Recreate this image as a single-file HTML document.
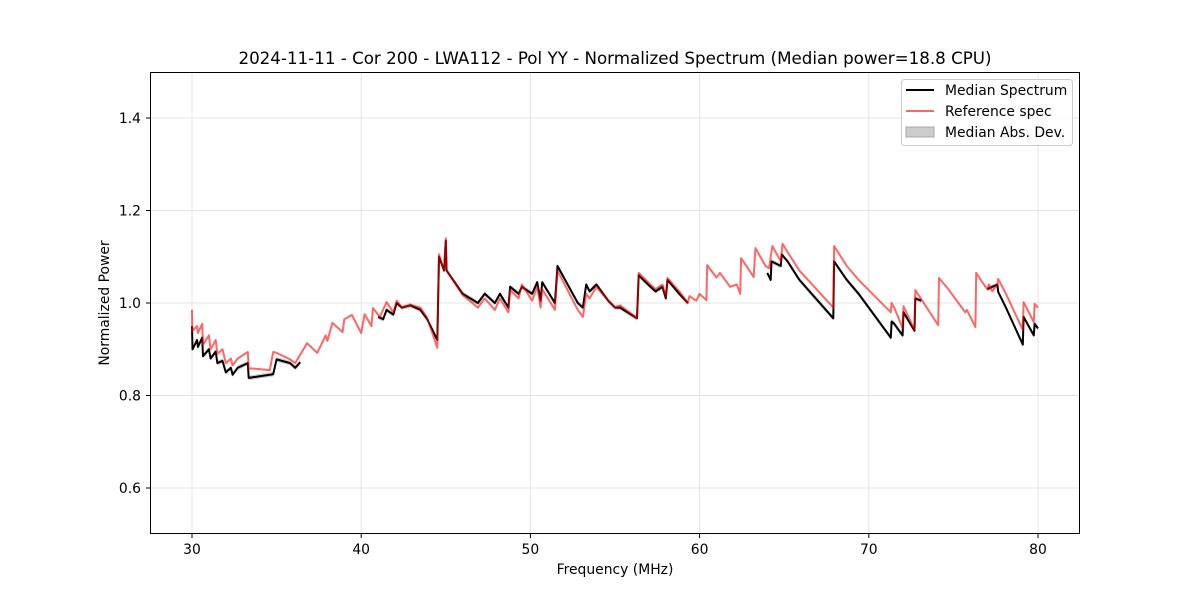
<!DOCTYPE html>
<html><head><meta charset="utf-8"><style>
body{margin:0;background:#fff;}
svg{display:block;font-family:"DejaVu Sans","Liberation Sans",sans-serif;}
</style></head><body>
<svg id="chart" width="1200" height="600" viewBox="0 0 1200 600">
<rect x="0" y="0" width="1200" height="600" fill="#fff"/>
<g id="grid"></g>
<g id="series"></g>
<rect x="150.5" y="72.5" width="929" height="461" fill="none" stroke="#000" stroke-width="1"/>
<g id="ticks"></g>
<text x="615" y="64" text-anchor="middle" font-size="16.7">2024-11-11 - Cor 200 - LWA112 - Pol YY - Normalized Spectrum (Median power=18.8 CPU)</text>
<text x="615" y="574" text-anchor="middle" font-size="13.9">Frequency (MHz)</text>
<text x="109" y="303" text-anchor="middle" font-size="13.9" transform="rotate(-90 109 303)">Normalized Power</text>
<g>
<rect x="901.5" y="79.5" width="171" height="66" rx="3" fill="#fff" fill-opacity="0.8" stroke="#ccc"/>
<g><line x1="906" y1="90" x2="934" y2="90" stroke="#000" stroke-width="2"/><text x="945" y="95" font-size="13.9">Median Spectrum</text></g>
<g><line x1="906" y1="111" x2="934" y2="111" stroke="#ff6464" stroke-width="2"/><text x="945" y="116" font-size="13.9">Reference spec</text></g>
<g><rect x="906" y="127" width="28" height="10" fill="#ccc" stroke="#aaa"/><text x="945" y="137" font-size="13.9">Median Abs. Dev.</text></g>
</g>
</svg>
<script>
const xTicks=[30,40,50,60,70,80];
const yTicks=[0.6,0.8,1.0,1.2,1.4];
const yTickLabels=["0.6","0.8","1.0","1.2","1.4"];
const refFreq=[30.0,30.02,30.3,30.35,30.6,30.65,31.0,31.1,31.4,31.5,31.8,32.0,32.3,32.4,32.7,33.3,33.35,34.6,34.8,35.0,35.8,36.1,36.8,37.4,37.9,38.0,38.3,38.9,39.0,39.45,40.0,40.2,40.6,40.7,41.1,41.5,41.9,42.1,42.4,42.9,43.5,43.9,44.5,44.6,44.9,45.0,45.05,46.0,46.9,47.3,47.9,48.2,48.7,48.8,49.3,49.5,50.1,50.4,50.6,50.7,51.45,51.6,52.8,53.1,53.3,53.5,53.9,54.6,55.0,55.3,56.3,56.4,57.1,57.4,57.8,58.0,58.1,58.8,59.3,59.4,59.8,60.0,60.4,60.45,61.0,61.2,61.8,62.2,62.4,62.45,63.2,63.3,63.9,64.1,64.3,64.8,64.9,65.2,65.9,67.9,67.95,68.7,69.4,71.3,71.35,71.5,72.0,72.05,72.7,72.75,74.1,74.15,74.7,75.7,75.8,76.3,76.35,76.8,77.0,77.1,77.3,77.6,77.65,78.1,79.1,79.15,79.75,79.8,80.0];
const refVals=[0.985,0.94,0.95,0.935,0.955,0.91,0.93,0.90,0.92,0.89,0.90,0.87,0.88,0.865,0.88,0.894,0.859,0.855,0.894,0.892,0.878,0.87,0.913,0.892,0.93,0.918,0.957,0.937,0.965,0.974,0.935,0.976,0.95,0.989,0.97,1.002,0.98,1.005,0.99,0.996,0.99,0.968,0.903,1.105,1.07,1.14,1.07,1.017,0.99,1.01,0.985,1.01,0.98,1.028,1.01,1.04,1.005,1.035,0.99,1.03,0.985,1.07,0.985,0.97,1.02,1.01,1.035,1.005,0.99,0.995,0.967,1.065,1.04,1.03,1.04,1.015,1.054,1.025,1.00,1.015,1.005,1.02,1.006,1.082,1.055,1.065,1.035,1.04,1.02,1.097,1.056,1.119,1.08,1.075,1.123,1.09,1.128,1.11,1.07,0.99,1.123,1.08,1.05,0.98,1.0,0.99,0.946,0.993,0.942,1.028,0.952,1.054,1.03,0.98,0.985,0.948,1.065,1.04,1.03,1.04,1.025,1.04,1.052,1.02,0.942,1.002,0.959,0.998,0.99];
const medFreq=[30.0,30.03,30.3,30.35,30.6,30.65,31.0,31.1,31.4,31.5,31.8,32.0,32.3,32.4,32.7,33.3,33.35,34.6,34.8,35.0,35.8,36.1,36.4,null,41.0,41.3,41.5,41.9,42.1,42.4,42.9,43.5,43.9,44.5,44.6,44.9,45.0,45.05,46.0,46.9,47.3,47.9,48.2,48.7,48.8,49.3,49.5,50.1,50.4,50.6,50.7,51.45,51.6,52.8,53.1,53.3,53.5,53.9,54.6,55.0,55.3,56.3,56.4,57.1,57.4,57.8,58.0,58.1,58.8,59.3,null,64.0,64.2,64.25,64.8,64.85,65.2,65.9,67.9,67.95,68.7,69.4,71.3,71.35,71.5,72.0,72.05,72.7,72.75,73.1,null,77.0,77.6,77.65,78.1,79.1,79.15,79.75,79.8,80.0];
const medVals=[0.95,0.90,0.92,0.905,0.925,0.885,0.90,0.88,0.895,0.87,0.875,0.85,0.86,0.845,0.86,0.87,0.838,0.845,0.846,0.878,0.87,0.86,0.872,null,0.97,0.965,0.985,0.975,1.0,0.99,0.995,0.985,0.965,0.92,1.1,1.07,1.135,1.07,1.02,1.0,1.02,1.0,1.02,0.99,1.035,1.02,1.035,1.02,1.045,1.005,1.045,1.0,1.08,1.0,0.99,1.04,1.025,1.04,1.005,0.99,0.99,0.967,1.06,1.035,1.025,1.035,1.01,1.05,1.02,1.0,null,1.065,1.05,1.09,1.08,1.105,1.09,1.05,0.967,1.09,1.05,1.02,0.925,0.96,0.955,0.93,0.98,0.94,1.01,1.005,null,1.03,1.04,1.024,0.99,0.91,0.97,0.93,0.955,0.945];
const madWidth=0.005;

const NS="http://www.w3.org/2000/svg";
function X(f){return 192+(f-30)*846/50;}
function Y(v){return 303-(v-1)*462.5;}
const grid=document.getElementById('grid'),ticks=document.getElementById('ticks'),series=document.getElementById('series');
function mk(tag,attrs,parent){const e=document.createElementNS(NS,tag);for(const k in attrs)e.setAttribute(k,attrs[k]);parent.appendChild(e);return e;}
xTicks.forEach(t=>{const x=X(t);
 const g=mk('line',{x1:x,x2:x,y1:72,y2:534,stroke:'#e4e4e4','stroke-width':1},grid);
 
 
 const tk=mk('line',{x1:x,x2:x,y1:534,y2:538,stroke:'#000'},ticks);
 
 
 const tx=mk('text',{x:x,y:554,'text-anchor':'middle','font-size':13.9},ticks);tx.textContent=String(t);
 
 
});
yTicks.forEach((t,i)=>{const y=Y(t);
 const g=mk('line',{x1:150,x2:1080,y1:y,y2:y,stroke:'#e4e4e4','stroke-width':1},grid);
 
 
 const tk=mk('line',{x1:146,x2:150,y1:y,y2:y,stroke:'#000'},ticks);
 
 
 const tx=mk('text',{x:141,y:y+5,'text-anchor':'end','font-size':13.9},ticks);tx.textContent=yTickLabels[i];
 
 
});
function segs(fs,vs){const out=[];let cur=[];for(let i=0;i<fs.length;i++){if(fs[i]===null||vs[i]===null){if(cur.length)out.push(cur);cur=[];}else cur.push([fs[i],vs[i]]);}if(cur.length)out.push(cur);return out;}
const ms=segs(medFreq,medVals);
ms.forEach(s=>{let d='';s.forEach((p,i)=>{d+=(i?'L':'M')+X(p[0]).toFixed(1)+','+Y(p[1]+madWidth).toFixed(1);});
 for(let i=s.length-1;i>=0;i--)d+='L'+X(s[i][0]).toFixed(1)+','+Y(s[i][1]-madWidth).toFixed(1);d+='Z';
 const e=mk('path',{d:d,fill:'#000','fill-opacity':0.2,stroke:'none'},series);
 
 
});
ms.forEach(s=>{const d=s.map((p,i)=>(i?'L':'M')+X(p[0]).toFixed(1)+','+Y(p[1]).toFixed(1)).join('');
 const e=mk('path',{d:d,fill:'none',stroke:'#000','stroke-width':2,'stroke-linejoin':'round'},series);
 
 
});
segs(refFreq,refVals).forEach(s=>{const d=s.map((p,i)=>(i?'L':'M')+X(p[0]).toFixed(1)+','+Y(p[1]).toFixed(1)).join('');
 const e=mk('path',{d:d,fill:'none',stroke:'#ff0000','stroke-opacity':0.6,'stroke-width':2,'stroke-linejoin':'round'},series);
 
 
});
</script>
</body></html>
